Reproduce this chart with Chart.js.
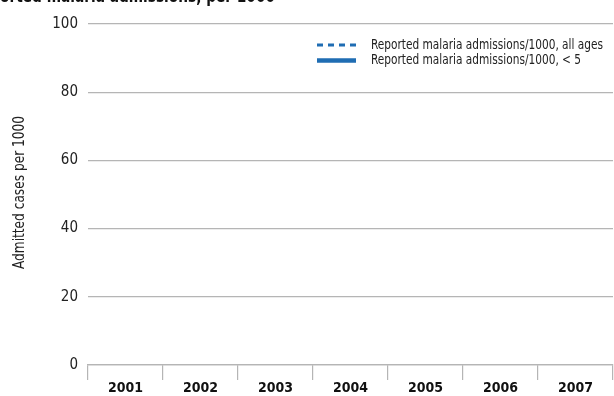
<!DOCTYPE html>
<html>
<head>
<meta charset="utf-8">
<script src="https://cdn.jsdelivr.net/npm/chart.js@4/dist/chart.umd.min.js"></script>
<style>
  html, body { margin: 0; padding: 0; background: #fff; }
  #wrap { width: 614px; height: 396px; position: relative; }
</style>
</head>
<body>
<div id="wrap"><canvas id="chart"></canvas></div>
<script>
const years = ['2001', '2002', '2003', '2004', '2005', '2006', '2007'];
// no values are plotted in the reference, so both series are empty
const allAges = [null, null, null, null, null, null, null];
const underFive = [null, null, null, null, null, null, null];
const yTicks = [0, 20, 40, 60, 80, 100];

const titleText = 'Reported malaria admissions, per 1000';
const yTitle = 'Admitted cases per 1000';
const FONT = "'Liberation Sans Narrow', 'DejaVu Sans Condensed', 'Roboto', sans-serif";
const BLUE = '#1f6db3';

// draws text squeezed horizontally to mimic the condensed face of the original
function narrowText(ctx, text, x, y, sx) {
  ctx.save();
  ctx.translate(x, y);
  ctx.scale(sx, 1);
  ctx.fillText(text, 0, 0);
  ctx.restore();
}

// title is clipped at the top edge in the original
const titlePlugin = {
  id: 'clippedTitle',
  afterDraw(chart) {
    const ctx = chart.ctx;
    ctx.save();
    ctx.font = `bold 17px ${FONT}`;
    ctx.fillStyle = '#111';
    ctx.textBaseline = 'alphabetic';
    const full = ctx.measureText(titleText).width;
    const rep = ctx.measureText('Rep').width;
    const sx = 275 / (full - rep);
    narrowText(ctx, titleText, -rep * sx, 2, sx);
    ctx.restore();
  }
};

// rotated axis title, condensed
const yTitlePlugin = {
  id: 'yTitle',
  afterDraw(chart) {
    const ctx = chart.ctx;
    const area = chart.chartArea;
    ctx.save();
    ctx.font = `15px ${FONT}`;
    ctx.fillStyle = '#222';
    ctx.textBaseline = 'middle';
    const w = ctx.measureText(yTitle).width;
    const sx = 153 / w;
    ctx.translate(20, (area.top + area.bottom) / 2 - 2);
    ctx.rotate(-Math.PI / 2);
    narrowText(ctx, yTitle, -w * sx / 2, 0, sx);
    ctx.restore();
  }
};

// legend drawn inside the plot area, top right
const legendPlugin = {
  id: 'innerLegend',
  afterDraw(chart) {
    const ctx = chart.ctx;
    ctx.save();
    ctx.font = `14px ${FONT}`;
    ctx.fillStyle = '#222';
    ctx.textBaseline = 'middle';
    const sx = 232 / ctx.measureText(chart.data.datasets[0].label).width;
    chart.data.datasets.forEach((ds, i) => {
      const y = 45 + i * 15.5;
      ctx.strokeStyle = ds.borderColor;
      ctx.lineWidth = ds.borderWidth;
      ctx.setLineDash(ds.borderDash || []);
      ctx.beginPath();
      ctx.moveTo(317, y);
      ctx.lineTo(356, y);
      ctx.stroke();
      ctx.setLineDash([]);
      narrowText(ctx, ds.label, 371, y, sx);
    });
    ctx.restore();
  }
};

new Chart(document.getElementById('chart'), {
  type: 'line',
  data: {
    labels: years,
    datasets: [
      { label: 'Reported malaria admissions/1000, all ages', data: allAges, borderColor: BLUE, borderWidth: 3, borderDash: [6, 5], pointRadius: 0, fill: false },
      { label: 'Reported malaria admissions/1000, < 5', data: underFive, borderColor: BLUE, borderWidth: 4.5, pointRadius: 0, fill: false }
    ]
  },
  options: {
    responsive: true,
    maintainAspectRatio: false,
    animation: false,
    layout: { padding: { top: 24, right: 1, left: 0, bottom: 0 } },
    plugins: { legend: { display: false }, tooltip: { enabled: false }, title: { display: false } },
    scales: {
      x: {
        type: 'category',
        offset: true,
        grid: { offset: true, drawOnChartArea: false, drawTicks: true, tickLength: 15, color: '#b5b5b5', lineWidth: 1.2 },
        border: { display: true, color: '#b5b5b5', width: 1.2 },
        ticks: { color: '#111', font: { family: FONT, size: 14, weight: 'bold' }, padding: 0, maxRotation: 0 },
        afterFit(scale) { scale.height = 31; }
      },
      y: {
        min: 0,
        max: 100,
        afterBuildTicks(scale) { scale.ticks = yTicks.map(v => ({ value: v })); },
        grid: { color: '#b5b5b5', lineWidth: 1.2, drawTicks: false },
        border: { display: false },
        ticks: { color: '#222', font: { family: FONT, size: 15 }, padding: 10 },
        title: { display: false },
        afterFit(scale) { scale.width = 88; }
      }
    }
  },
  plugins: [titlePlugin, yTitlePlugin, legendPlugin]
});
</script>
</body>
</html>
